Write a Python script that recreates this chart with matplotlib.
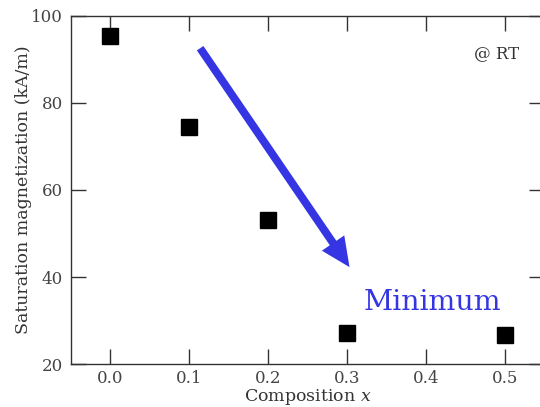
import matplotlib
matplotlib.use('Agg')
import matplotlib.pyplot as plt

# composition x and saturation magnetization at room temperature
comp_x = [0.0, 0.1, 0.2, 0.3, 0.5]
ms_kam = [95.3, 74.4, 53.1, 27.3, 26.7]

xticks = [0.0, 0.1, 0.2, 0.3, 0.4, 0.5]
yticks = [20, 40, 60, 80, 100]

plt.rcParams['font.family'] = 'DejaVu Serif'
plt.rcParams['mathtext.fontset'] = 'dejavuserif'

fig = plt.figure(figsize=(5.4, 4.07), dpi=100)
# right edge of the frame runs off the picture, as in the original
ax1 = fig.add_axes([71/540, 1 - 364.4/407, (544 - 71)/540, (364.4 - 15.5)/407])

ax1.plot(comp_x, ms_kam, 's', color='black', markersize=11.5)

ax1.set_xlim(-0.05, 0.55)
ax1.set_ylim(20, 100)
ax1.set_xticks(xticks)
ax1.set_xticklabels(['%.1f' % t for t in xticks])
ax1.set_yticks(yticks)

ax1.tick_params(direction='in', length=11, width=1.0, color='#333333',
                top=True, right=True, labelsize=12, labelcolor='#444444')
ax1.tick_params(axis='x', pad=4)
ax1.tick_params(axis='y', pad=6)
for s in ax1.spines.values():
    s.set_linewidth(1.0)
    s.set_color('#333333')

ax1.set_xlabel('Composition $x$', fontsize=12.5, color='#333333', labelpad=0)
ax1.set_ylabel('Saturation magnetization (kA/m)', fontsize=12.5, color='#333333', labelpad=-1)

ax1.annotate('', xy=(0.3033, 42.3), xytext=(0.1138, 92.5),
             arrowprops=dict(arrowstyle='simple,head_length=1.4,head_width=1.3,tail_width=0.38',
                             color='#3535e3', lw=0, shrinkA=0, shrinkB=0, mutation_scale=15))
ax1.text(0.321, 32.5, 'Minimum', fontsize=20.5, color='#3535e3')
ax1.text(0.519, 90.3, '@ RT', fontsize=12, color='#333333', ha='right')

fig.savefig('out.png', dpi=100)
